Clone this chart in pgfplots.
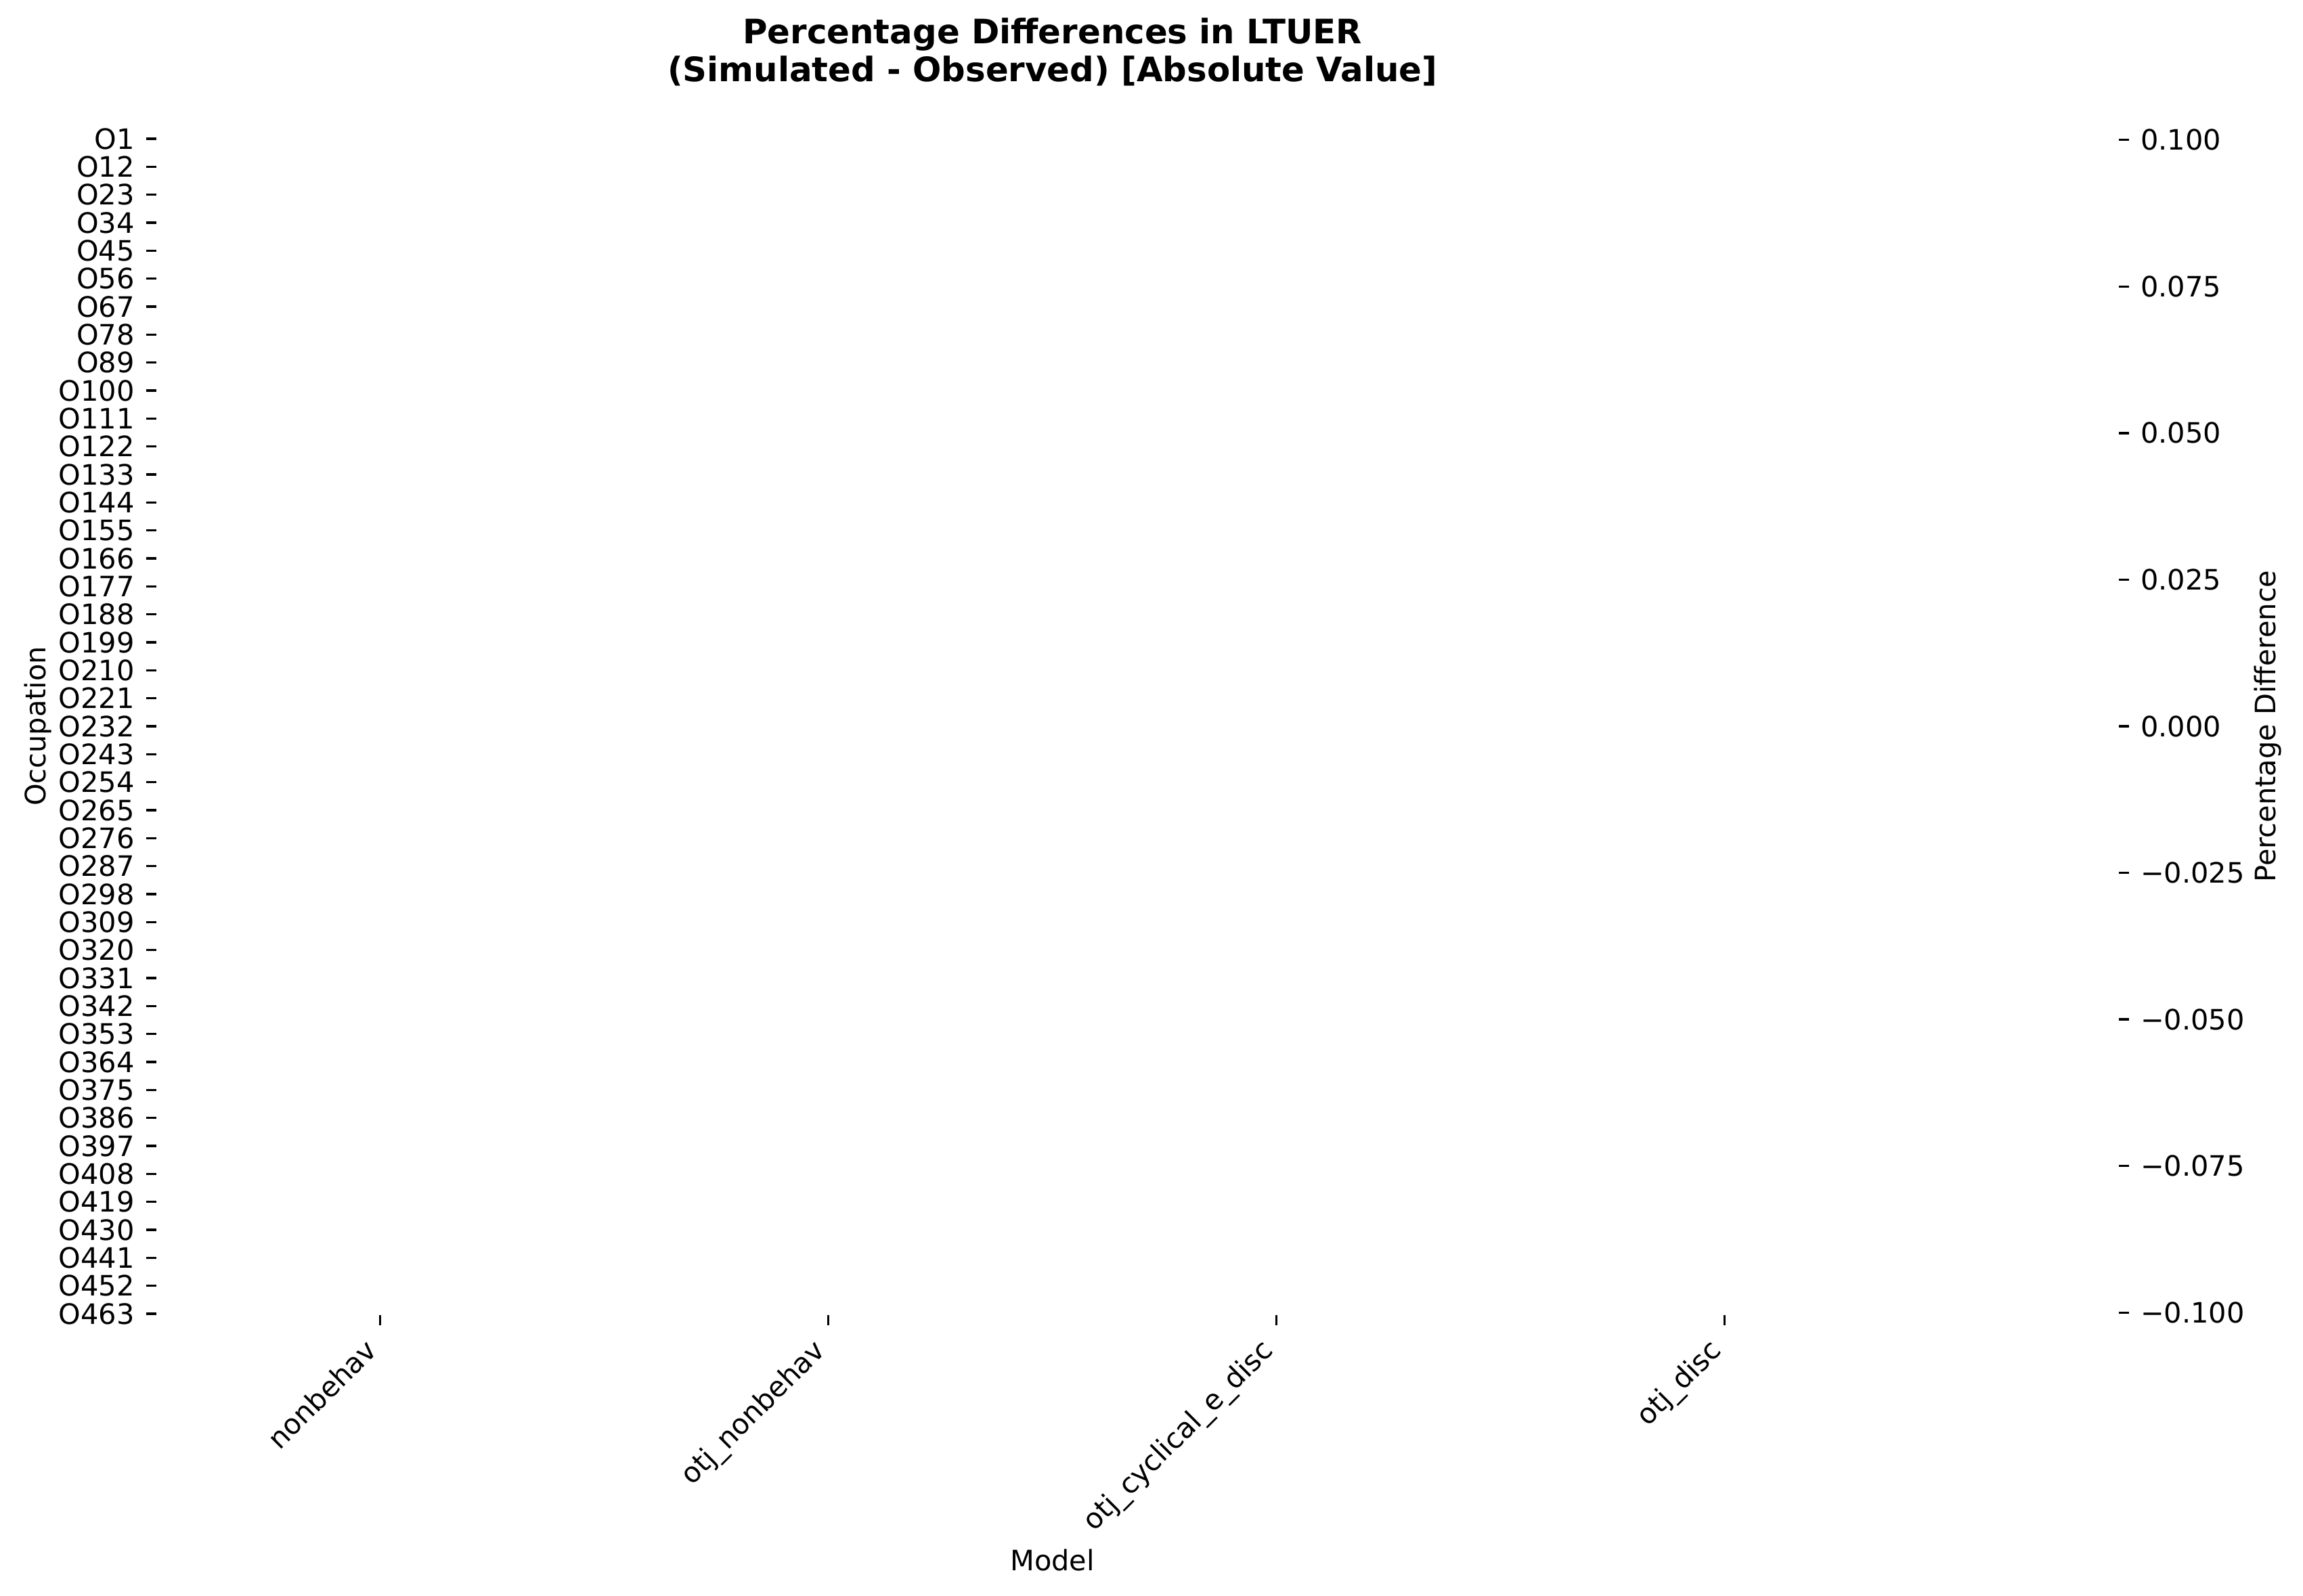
\documentclass[border=0pt]{standalone}
\usepackage{pgfplots}
\pgfplotsset{compat=1.18}
\usepackage{fontspec}
\setmainfont{DejaVu Sans}

\begin{document}
\begin{tikzpicture}
\path[use as bounding box] (0,0) rectangle (816.48bp,565.92bp);
% Heatmap (all cells empty / NaN)
\begin{axis}[
  at={(55.37bp,99.6bp)}, anchor=south west,
  scale only axis, width=635.5bp, height=417.6bp,
  xmin=0, xmax=4, ymin=0, ymax=463, y dir=reverse,
  axis line style={draw=none},
  tick align=outside, major tick length=3.5bp,
  every tick/.style={black, line width=0.8bp},
  xtick pos=lower, ytick pos=left,
  xtick={0.5,1.5,2.5,3.5},
  xticklabels={nonbehav, otj\_nonbehav, otj\_cyclical\_e\_disc, otj\_disc},
  ytick={0.5,11.5,22.5,33.5,44.5,55.5,66.5,77.5,88.5,99.5,110.5,121.5,132.5,143.5,154.5,165.5,176.5,187.5,198.5,209.5,220.5,231.5,242.5,253.5,264.5,275.5,286.5,297.5,308.5,319.5,330.5,341.5,352.5,363.5,374.5,385.5,396.5,407.5,418.5,429.5,440.5,451.5,462.5},
  yticklabels={O1,O12,O23,O34,O45,O56,O67,O78,O89,O100,O111,O122,O133,O144,O155,O166,O177,O188,O199,O210,O221,O232,O243,O254,O265,O276,O287,O298,O309,O320,O331,O342,O353,O364,O375,O386,O397,O408,O419,O430,O441,O452,O463},
  tick label style={font=\fontsize{10}{12}\selectfont},
  yticklabel style={inner sep=0pt, anchor=east, xshift=-4bp},
  xticklabel style={inner sep=0pt, text height=0.76em, text depth=0.24em, anchor=north east, xshift=-6bp, yshift=-4bp, rotate=45},
  title={Percentage Differences in LTUER\\(Simulated - Observed) [Absolute Value]},
  every axis title/.style={at={(rel axis cs:0.5,1)}, anchor=south, yshift=18bp, align=center, inner sep=0pt, font=\bfseries\fontsize{12}{13.4}\selectfont},
  xlabel={Model},
  every axis x label/.style={at={(rel axis cs:0.5,0)}, anchor=base, yshift=-90.5bp, inner sep=0pt, font=\fontsize{10}{12}\selectfont},
  ylabel={Occupation},
  every axis y label/.style={at={(rel axis cs:-0.058,0.5)}, rotate=90, anchor=south, inner sep=0pt, font=\fontsize{10}{12}\selectfont},
]
\addplot[draw=none, forget plot] coordinates {(0.5,0.5) (3.5,462.5)};
\end{axis}
% Colorbar
\begin{axis}[
  at={(730.3bp,100.5bp)}, anchor=south west,
  scale only axis, width=20.9bp, height=415.8bp,
  xmin=0, xmax=1, ymin=-0.1, ymax=0.1,
  axis line style={draw=none},
  tick align=outside, major tick length=3.5bp,
  every tick/.style={black, line width=0.8bp},
  xtick=\empty,
  ytick pos=right, yticklabel pos=right,
  ytick={-0.1,-0.075,-0.05,-0.025,0,0.025,0.05,0.075,0.1},
  yticklabels={−0.100,−0.075,−0.050,−0.025,0.000,0.025,0.050,0.075,0.100},
  tick label style={font=\fontsize{10}{12}\selectfont},
  yticklabel style={inner sep=0pt, anchor=west, xshift=4bp},
  ylabel={Percentage Difference},
  every axis y label/.style={at={(rel axis cs:3.29,0.5)}, rotate=90, anchor=north, inner sep=0pt, font=\fontsize{10}{12}\selectfont},
]
\addplot[draw=none, forget plot] coordinates {(0,-0.1) (1,0.1)};
\end{axis}
\end{tikzpicture}
\end{document}
